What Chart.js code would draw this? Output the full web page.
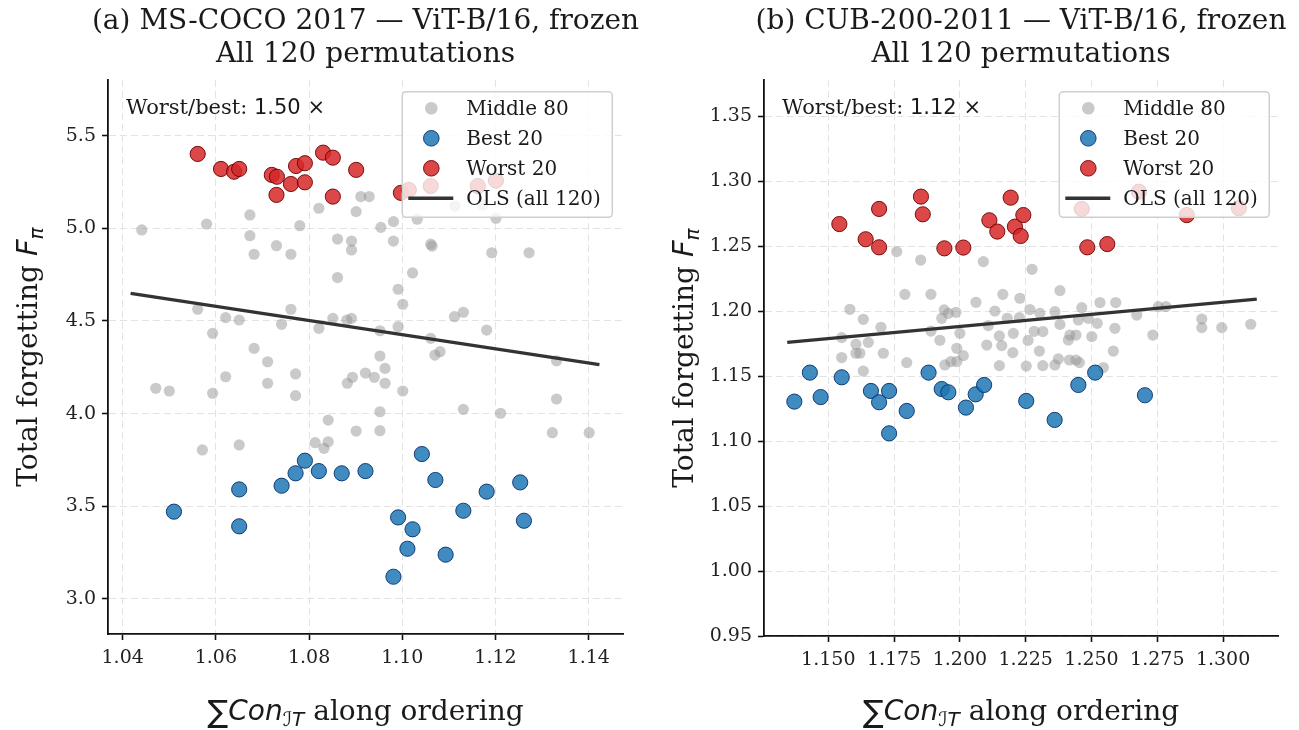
<!DOCTYPE html>
<html><head><meta charset="utf-8">
<script src="https://cdn.jsdelivr.net/npm/chart.js@4.4.1/dist/chart.umd.min.js"></script>
<style>
html,body{margin:0;padding:0;background:#fff;}
#wrap{position:relative;width:1299px;height:730px;overflow:hidden;}
canvas{position:absolute;top:0;}
</style></head><body>
<div id="wrap">
<canvas id="c1" width="650" height="730" style="left:0px"></canvas>
<canvas id="c2" width="649" height="730" style="left:650px"></canvas>
</div>
<script>
// ---------- (a) MS-COCO 2017 ----------
const cocoMidX = [1.0441,1.0580,1.0673,1.0673,1.0682,1.0730,1.0761,1.0780,1.0821,1.0861,
1.0891,1.0891,1.0901,1.0911,1.0929,1.0861,1.0954,1.0981,1.0981,1.1032,
1.1061,1.1064,1.1022,1.1113,1.1201,1.1192,1.1272,1.1173,1.0561,1.0621,
1.0650,1.0593,1.0761,1.0741,1.0821,1.0851,1.0881,1.0891,1.0682,1.0711,
1.0621,1.0711,1.0771,1.0771,1.0471,1.0500,1.0593,1.0882,1.0893,1.0921,
1.0841,1.0901,1.0813,1.0841,1.0832,1.0571,1.0650,1.0991,1.1001,1.1112,
1.1131,1.0991,1.0952,1.1061,1.1181,1.1081,1.1070,1.0952,1.0940,1.0963,
1.0963,1.1001,1.1331,1.1331,1.1131,1.1211,1.0952,1.0952,1.1322,1.1401];
const cocoMidY = [4.991,5.023,5.072,4.960,4.860,4.906,4.860,5.014,5.108,4.942,
4.931,4.883,5.090,5.171,5.171,4.734,5.005,5.036,4.931,5.049,
4.914,4.904,4.759,5.120,5.054,4.868,4.868,5.126,4.563,4.518,
4.505,4.433,4.563,4.482,4.460,4.514,4.505,4.514,4.352,4.280,
4.199,4.164,4.214,4.097,4.137,4.122,4.110,4.164,4.196,4.219,
3.965,3.906,3.843,3.848,3.813,3.804,3.831,4.671,4.590,4.523,
4.547,4.469,4.447,4.406,4.451,4.334,4.316,4.311,4.196,4.244,
4.164,4.122,4.285,4.079,4.023,4.002,4.010,3.908,3.897,3.897];
const cocoBestX = [1.0510,1.0650,1.0650,1.0741,1.0771,1.0791,1.0821,1.0870,1.0921,1.0991,
1.0981,1.1011,1.1022,1.1042,1.1071,1.1093,1.1131,1.1181,1.1253,1.1261];
const cocoBestY = [3.471,3.591,3.392,3.611,3.678,3.746,3.690,3.678,3.690,3.440,
3.120,3.271,3.376,3.782,3.642,3.239,3.476,3.579,3.629,3.422];
const cocoWorstX = [1.0561,1.0611,1.0639,1.0650,1.0720,1.0731,1.0730,1.0761,1.0772,1.0791,
1.0791,1.0830,1.0851,1.0851,1.0901,1.0997,1.1061,1.1162,1.1201,1.1014];
const cocoWorstY = [5.401,5.320,5.305,5.320,5.288,5.278,5.180,5.239,5.336,5.351,
5.248,5.408,5.381,5.171,5.315,5.191,5.228,5.228,5.257,5.207];
const cocoOlsX = [1.0417,1.1423];
const cocoOlsY = [4.649,4.264];
const cocoXTicks = [1.04,1.06,1.08,1.10,1.12,1.14];
const cocoXTickLabels = ['1.04','1.06','1.08','1.10','1.12','1.14'];
const cocoYTicks = [3.0,3.5,4.0,4.5,5.0,5.5];
const cocoYTickLabels = ['3.0','3.5','4.0','4.5','5.0','5.5'];
const cocoRatio = '1.50';

// ---------- (b) CUB-200-2011 ----------
const cubMidX = [1.1760,1.1851,1.2089,1.2274,1.1582,1.1633,1.1700,1.1551,1.1605,1.1652,
1.1605,1.1620,1.1709,1.1551,1.1633,1.1798,1.1890,1.1940,1.1931,1.1956,
1.1985,1.1890,1.2000,1.2061,1.2163,1.2133,1.2180,1.2226,1.2108,1.2150,
1.2203,1.2266,1.1988,1.2102,1.2159,1.2013,1.2201,1.1943,1.1966,1.1988,
1.2150,1.2252,1.2282,1.2315,1.2304,1.2361,1.2463,1.2532,1.2592,1.2450,
1.2488,1.2522,1.2672,1.2754,1.2783,1.2919,1.2919,1.2995,1.3105,1.2418,
1.2441,1.2412,1.2501,1.2733,1.2302,1.2583,1.2374,1.2416,1.2441,1.2454,
1.2361,1.2315,1.2545,1.1791,1.2380,1.2259,1.2380,1.2589,1.1924,1.2228];
const cubMidY = [1.2457,1.2392,1.2380,1.2321,1.2013,1.1936,1.1875,1.1795,1.1744,1.1759,
1.1675,1.1675,1.1675,1.1642,1.1538,1.1603,1.2128,1.2008,1.1944,1.1982,
1.1990,1.1846,1.1828,1.2067,1.2128,1.2000,1.1944,1.1949,1.1888,1.1808,
1.1828,1.2011,1.1713,1.1738,1.1734,1.1657,1.1680,1.1585,1.1611,1.1611,
1.1580,1.1576,1.1844,1.1842,1.1982,1.1995,1.2026,1.2065,1.2065,1.1931,
1.1944,1.1905,1.1969,1.2034,1.2034,1.1938,1.1872,1.1872,1.1898,1.1815,
1.1815,1.1777,1.1803,1.1815,1.1692,1.1692,1.1631,1.1623,1.1623,1.1603,
1.1585,1.1580,1.1565,1.2128,1.2157,1.1774,1.1897,1.1867,1.1775,1.2098];
const cubBestX = [1.1371,1.1430,1.1471,1.1551,1.1662,1.1693,1.1731,1.1731,1.1798,1.1881,
1.1931,1.1956,1.2023,1.2060,1.2092,1.2252,1.2360,1.2450,1.2514,1.2703];
const cubBestY = [1.1303,1.1526,1.1338,1.1490,1.1385,1.1298,1.1385,1.1059,1.1231,1.1526,
1.1400,1.1375,1.1257,1.1359,1.1431,1.1308,1.1162,1.1431,1.1526,1.1352];
const cubWorstX = [1.1542,1.1642,1.1693,1.1693,1.1852,1.1859,1.1941,1.2013,1.2112,1.2142,
1.2193,1.2209,1.2231,1.2241,1.2463,1.2484,1.2560,1.2680,1.2862,1.3060];
const cubWorstY = [1.2669,1.2552,1.2785,1.2490,1.2880,1.2744,1.2482,1.2488,1.2698,1.2611,
1.2872,1.2649,1.2577,1.2738,1.2785,1.2490,1.2515,1.2918,1.2738,1.2790];
const cubOlsX = [1.1344,1.3128];
const cubOlsY = [1.1759,1.2092];
const cubXTicks = [1.150,1.175,1.200,1.225,1.250,1.275,1.300];
const cubXTickLabels = ['1.150','1.175','1.200','1.225','1.250','1.275','1.300'];
const cubYTicks = [0.95,1.00,1.05,1.10,1.15,1.20,1.25,1.30,1.35];
const cubYTickLabels = ['0.95','1.00','1.05','1.10','1.15','1.20','1.25','1.30','1.35'];
const cubRatio = '1.12';

const legendLabels = ['Middle 80','Best 20','Worst 20','OLS (all 120)'];

// ---------- styling ----------
const SERIF = "'DejaVu Serif', serif";
const SANS = "'DejaVu Sans', sans-serif";
const GRAY_FILL = 'rgba(150,150,150,0.5)';
const BLUE_FILL = 'rgba(31,119,180,0.85)';
const BLUE_EDGE = 'rgba(8,48,107,0.9)';
const RED_FILL = 'rgba(214,39,40,0.85)';
const RED_EDGE = 'rgba(110,0,0,0.9)';
const OLS_COLOR = '#333333';
const TEXT = '#1a1a1a';

function pts(xs, ys){ return xs.map((x,i)=>({x:x, y:ys[i]})); }

function drawRich(ctx, parts, x, y, align){
  let w = 0;
  parts.forEach(p=>{ ctx.font = p.f; p.w = ctx.measureText(p.t).width; w += p.w; });
  let cx = align === 'center' ? x - w/2 : x;
  ctx.textBaseline = 'alphabetic';
  parts.forEach(p=>{ ctx.font = p.f; ctx.fillText(p.t, cx, y + (p.dy||0)); cx += p.w; });
}

const textPlugin = {
  id: 'textDecor',
  afterDraw(chart){
    const o = chart.options.plugins.textDecor;
    const ctx = chart.ctx, ca = chart.chartArea;
    const cx = (ca.left + ca.right)/2;
    ctx.save();
    ctx.fillStyle = TEXT;
    // titles
    ctx.textAlign = 'center';
    ctx.textBaseline = 'alphabetic';
    ctx.font = '28px ' + SERIF;
    ctx.fillText(o.title1, cx, 29);
    ctx.fillText(o.title2, cx, 62);
    ctx.textAlign = 'left';
    // x label
    drawRich(ctx, [
      {t:'\u2211', f:'31px ' + SANS, dy:2},
      {t:'Con', f:'italic 28px ' + SANS},
      {t:'\u2110\u0054', f:'italic 20px ' + SANS, dy:6},
      {t:' along ordering', f:'28px ' + SERIF}
    ], cx, 720, 'center');
    // y label
    ctx.save();
    ctx.translate(o.ylabelX, (ca.top + ca.bottom)/2);
    ctx.rotate(-Math.PI/2);
    drawRich(ctx, [
      {t:'Total forgetting ', f:'28px ' + SERIF},
      {t:'F', f:'italic 29px ' + SANS},
      {t:'\u03c0', f:'italic 20px ' + SANS, dy:6}
    ], 0, 0, 'center');
    ctx.restore();
    // annotation
    drawRich(ctx, [
      {t:'Worst/best: ', f:'21px ' + SERIF},
      {t:o.ratio + ' \u00d7', f:'21px ' + SANS}
    ], ca.left + 18, 114, 'left');
    // legend
    const L = o.legend;
    ctx.beginPath();
    if (ctx.roundRect) ctx.roundRect(L.x, L.y, L.w, L.h, 4); else ctx.rect(L.x, L.y, L.w, L.h);
    ctx.fillStyle = 'rgba(255,255,255,0.8)';
    ctx.fill();
    ctx.lineWidth = 1.5;
    ctx.strokeStyle = '#cfcfcf';
    ctx.stroke();
    const rows = [16.6, 46.6, 76.6, 106.6];
    const mx = L.x + 29;
    ctx.beginPath(); ctx.arc(mx, L.y + rows[0], 6.3, 0, Math.PI*2);
    ctx.fillStyle = GRAY_FILL; ctx.fill();
    ctx.beginPath(); ctx.arc(mx, L.y + rows[1], 7.8, 0, Math.PI*2);
    ctx.fillStyle = BLUE_FILL; ctx.fill(); ctx.lineWidth = 1; ctx.strokeStyle = BLUE_EDGE; ctx.stroke();
    ctx.beginPath(); ctx.arc(mx, L.y + rows[2], 7.8, 0, Math.PI*2);
    ctx.fillStyle = RED_FILL; ctx.fill(); ctx.lineWidth = 1; ctx.strokeStyle = RED_EDGE; ctx.stroke();
    ctx.beginPath(); ctx.moveTo(L.x + 6, L.y + rows[3]); ctx.lineTo(L.x + 51, L.y + rows[3]);
    ctx.lineWidth = 3.5; ctx.strokeStyle = OLS_COLOR; ctx.stroke();
    ctx.fillStyle = TEXT;
    ctx.font = '20px ' + SERIF;
    ctx.textBaseline = 'middle';
    legendLabels.forEach((lab, i)=> ctx.fillText(lab, L.x + 64, L.y + rows[i] + 1));
    ctx.restore();
  }
};

function makeChart(id, d){
  const ctx = document.getElementById(id).getContext('2d');
  return new Chart(ctx, {
    type: 'scatter',
    data: {
      datasets: [
        {label: legendLabels[3], type:'line', data: pts(d.olsX, d.olsY), showLine:true,
         borderColor: OLS_COLOR, borderWidth: 3.2, pointRadius: 0, fill:false, order: 2},
        {label: legendLabels[2], data: pts(d.worstX, d.worstY), backgroundColor: RED_FILL,
         borderColor: RED_EDGE, borderWidth: 1, pointRadius: 7.6, order: 1},
        {label: legendLabels[1], data: pts(d.bestX, d.bestY), backgroundColor: BLUE_FILL,
         borderColor: BLUE_EDGE, borderWidth: 1, pointRadius: 7.6, order: 1},
        {label: legendLabels[0], data: pts(d.midX, d.midY), backgroundColor: GRAY_FILL,
         borderWidth: 0, pointRadius: 5.6, order: 3}
      ]
    },
    options: {
      responsive: false,
      animation: false,
      devicePixelRatio: 1,
      layout: { padding: { left: 0, right: d.padRight, top: 80, bottom: 0 } },
      plugins: {
        legend: { display: false },
        tooltip: { enabled: false },
        textDecor: d.decor
      },
      scales: {
        x: {
          type: 'linear', min: d.xMin, max: d.xMax,
          afterBuildTicks: s => { s.ticks = d.xTicks.map(v => ({value: v})); },
          afterFit: s => { s.height = d.xAxisH; },
          ticks: { callback: (v, i) => d.xLabels[i], font: {family: SERIF, size: 19}, color: '#222',
                   padding: 7, maxRotation: 0, autoSkip: false },
          grid: { color: '#e3e3e3', lineWidth: 1, tickLength: 6, tickColor: '#111', tickWidth: 1.6, tickBorderDash: [] },
          border: { display: true, color: '#111', width: 1.8, dash: [7, 4] }
        },
        y: {
          type: 'linear', min: d.yMin, max: d.yMax,
          afterBuildTicks: s => { s.ticks = d.yTicks.map(v => ({value: v})); },
          afterFit: s => { s.width = d.yAxisW; },
          ticks: { callback: (v, i) => d.yLabels[i], font: {family: SERIF, size: 19}, color: '#222',
                   padding: 6, autoSkip: false },
          grid: { color: '#e3e3e3', lineWidth: 1, tickLength: 6, tickColor: '#111', tickWidth: 1.6, tickBorderDash: [] },
          border: { display: true, color: '#111', width: 1.8, dash: [7, 4] }
        }
      }
    },
    plugins: [textPlugin]
  });
}

makeChart('c1', {
  midX: cocoMidX, midY: cocoMidY, bestX: cocoBestX, bestY: cocoBestY,
  worstX: cocoWorstX, worstY: cocoWorstY, olsX: cocoOlsX, olsY: cocoOlsY,
  xTicks: cocoXTicks, xLabels: cocoXTickLabels, yTicks: cocoYTicks, yLabels: cocoYTickLabels,
  xMin: 1.03685, xMax: 1.14736, yMin: 2.811, yMax: 5.800,
  yAxisW: 108, xAxisH: 96, padRight: 27,
  decor: { title1: '(a) MS-COCO 2017 \u2014 ViT-B/16, frozen', title2: 'All 120 permutations',
           ratio: cocoRatio, ylabelX: 37, legend: {x: 402.3, y: 91.7, w: 210, h: 125.6} }
});
makeChart('c2', {
  midX: cubMidX, midY: cubMidY, bestX: cubBestX, bestY: cubBestY,
  worstX: cubWorstX, worstY: cubWorstY, olsX: cubOlsX, olsY: cubOlsY,
  xTicks: cubXTicks, xLabels: cubXTickLabels, yTicks: cubYTicks, yLabels: cubYTickLabels,
  xMin: 1.12557, xMax: 1.32086, yMin: 0.95, yMax: 1.3777,
  yAxisW: 114, xAxisH: 94, padRight: 21,
  decor: { title1: '(b) CUB-200-2011 \u2014 ViT-B/16, frozen', title2: 'All 120 permutations',
           ratio: cubRatio, ylabelX: 43, legend: {x: 409.3, y: 91.7, w: 210, h: 125.6} }
});
</script>
</body></html>
